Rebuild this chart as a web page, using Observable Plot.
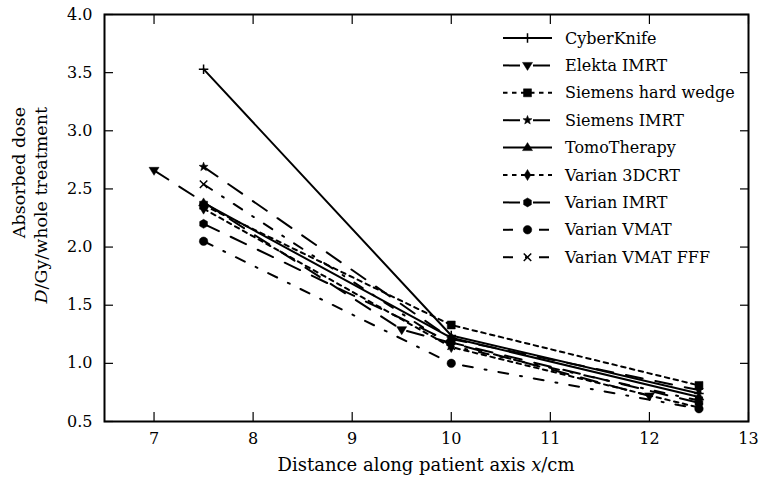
<!DOCTYPE html>
<html>
<head>
<meta charset="utf-8">
<script src="https://cdn.jsdelivr.net/npm/d3@7"></script>
<script src="https://cdn.jsdelivr.net/npm/@observablehq/plot@0.6"></script>
<style>
  body { margin: 0; background: #fff; }
  svg { font-family: "DejaVu Serif", "Liberation Serif", serif; }
</style>
</head>
<body>
<div id="chart"></div>
<script>
// Measurement positions along the patient axis (cm)
const positions = [7.5, 10, 12.5];
const elektaPositions = [7, 9.5, 12];

// Absorbed dose per whole treatment (Gy)
const cyberKnife       = [3.53, 1.24, 0.74];
const elektaImrt       = [2.66, 1.29, 0.72];
const siemensWedge     = [2.36, 1.33, 0.81];
const siemensImrt      = [2.69, 1.21, 0.77];
const tomoTherapy      = [2.38, 1.22, 0.71];
const varian3dcrt      = [2.33, 1.14, 0.62];
const varianImrt       = [2.20, 1.18, 0.66];
const varianVmat       = [2.05, 1.00, 0.61];
const varianVmatFff    = [2.54, 1.15, 0.68];

const seriesNames = ["CyberKnife", "Elekta IMRT", "Siemens hard wedge", "Siemens IMRT",
  "TomoTherapy", "Varian 3DCRT", "Varian IMRT", "Varian VMAT", "Varian VMAT FFF"];

const xTicks = [7, 8, 9, 10, 11, 12, 13];
const yTicks = [0.5, 1.0, 1.5, 2.0, 2.5, 3.0, 3.5, 4.0];

const FONT = "DejaVu Serif, serif";

// Marker shapes (d3 symbol-type objects: size is the area)
const rOf = s => Math.sqrt(s / Math.PI);
const sym = {
  plus: {draw(c, s) { const r = rOf(s) * 0.95; c.moveTo(-r, 0); c.lineTo(r, 0); c.moveTo(0, -r); c.lineTo(0, r); }},
  times: {draw(c, s) { const r = rOf(s) * 0.75; c.moveTo(-r, -r); c.lineTo(r, r); c.moveTo(-r, r); c.lineTo(r, -r); }},
  triDown: {draw(c, s) { const r = rOf(s) * 1.0; c.moveTo(-r, -r * 0.6); c.lineTo(r, -r * 0.6); c.lineTo(0, r); c.closePath(); }},
  triUp: {draw(c, s) { const r = rOf(s) * 1.0; c.moveTo(-r, r * 0.6); c.lineTo(r, r * 0.6); c.lineTo(0, -r); c.closePath(); }},
  square: {draw(c, s) { const r = rOf(s) * 0.8; c.rect(-r, -r, 2 * r, 2 * r); }},
  star: {draw(c, s) { const R = rOf(s) * 0.95, q = R * 0.42;
    for (let i = 0; i < 10; i++) { const a = -Math.PI / 2 + i * Math.PI / 5, rr = i % 2 ? q : R;
      i ? c.lineTo(rr * Math.cos(a), rr * Math.sin(a)) : c.moveTo(rr * Math.cos(a), rr * Math.sin(a)); }
    c.closePath(); }},
  thinDiamond: {draw(c, s) { const r = rOf(s) * 1.1; c.moveTo(0, -r); c.lineTo(r * 0.6, 0); c.lineTo(0, r); c.lineTo(-r * 0.6, 0); c.closePath(); }},
  hexagon: {draw(c, s) { const r = rOf(s) * 0.9;
    for (let i = 0; i < 6; i++) { const a = -Math.PI / 2 + i * Math.PI / 3;
      i ? c.lineTo(r * Math.cos(a), r * Math.sin(a)) : c.moveTo(r * Math.cos(a), r * Math.sin(a)); }
    c.closePath(); }},
  circle: {draw(c, s) { const r = rOf(s) * 0.85; c.moveTo(r, 0); c.arc(0, 0, r, 0, 2 * Math.PI); }}
};

const LONG = "17,13", DOT = "4.5,4.5", DASHDOT = "10,12,2,12";
const styles = [
  {x: positions,       y: cyberKnife,    dash: null,    symbol: sym.plus,        filled: false},
  {x: elektaPositions, y: elektaImrt,    dash: LONG,    symbol: sym.triDown,     filled: true},
  {x: positions,       y: siemensWedge,  dash: DOT,     symbol: sym.square,      filled: true},
  {x: positions,       y: siemensImrt,   dash: LONG,    symbol: sym.star,        filled: true},
  {x: positions,       y: tomoTherapy,   dash: null,    symbol: sym.triUp,       filled: true},
  {x: positions,       y: varian3dcrt,   dash: DOT,     symbol: sym.thinDiamond, filled: true},
  {x: positions,       y: varianImrt,    dash: LONG,    symbol: sym.hexagon,     filled: true},
  {x: positions,       y: varianVmat,    dash: DASHDOT, symbol: sym.circle,      filled: true},
  {x: positions,       y: varianVmatFff, dash: DASHDOT, symbol: sym.times,       filled: false}
];

const rows = styles.map((s, i) => s.x.map((x, j) => ({name: seriesNames[i], x, y: s.y[j]})));

const marks = [];
styles.forEach((s, i) => {
  marks.push(Plot.line(rows[i], {x: "x", y: "y", stroke: "black", strokeWidth: 2,
    strokeDasharray: s.dash || undefined}));
  marks.push(Plot.dot(rows[i], {x: "x", y: "y", r: 5, symbol: () => s.symbol,
    fill: s.filled ? "black" : "none", stroke: "black", strokeWidth: s.filled ? 0.5 : 1.5}));
});

const chart = Plot.plot({
  width: 760,
  height: 480,
  marginLeft: 104,
  marginRight: 12,
  marginTop: 14,
  marginBottom: 59,
  style: {fontSize: "16px", fontFamily: FONT, color: "black", background: "white"},
  x: {domain: [6.5, 13]},
  y: {domain: [0.5, 4.0]},
  symbol: {type: "identity"},
  marks: [
    ...marks,
    Plot.axisX({anchor: "bottom", ticks: xTicks, tickSize: -9, tickPadding: 20, label: null, tickFormat: d => d, strokeWidth: 1.2}),
    Plot.axisX({anchor: "top", ticks: xTicks, tickSize: -9, label: null, tickFormat: () => "", strokeWidth: 1.2}),
    Plot.axisY({anchor: "left", ticks: yTicks, tickSize: -9, tickPadding: 21, label: null, tickFormat: d3.format(".1f"), strokeWidth: 1.2}),
    Plot.axisY({anchor: "right", ticks: yTicks, tickSize: -9, label: null, tickFormat: () => "", strokeWidth: 1.2}),
    Plot.frame({stroke: "black", strokeWidth: 2})
  ]
});

document.getElementById("chart").appendChild(chart);

// Axis titles and legend
const svg = d3.select(chart);
const plotLeft = 104, plotRight = 748;

const xt = svg.append("text")
  .attr("x", (plotLeft + plotRight) / 2).attr("y", 471)
  .attr("text-anchor", "middle").attr("font-size", 18).attr("fill", "black");
xt.append("tspan").text("Distance along patient axis ");
xt.append("tspan").attr("font-style", "italic").text("x");
xt.append("tspan").text("/cm");

// two-line vertical title, both lines ending at the same height
const yt = svg.append("g").attr("transform", "translate(0,107) rotate(-90)");
yt.append("text").attr("x", 0).attr("y", 25).attr("text-anchor", "end")
  .attr("font-size", 17.5).attr("fill", "black").text("Absorbed dose");
const yt2 = yt.append("text").attr("x", 0).attr("y", 47).attr("text-anchor", "end")
  .attr("font-size", 17.5).attr("fill", "black");
yt2.append("tspan").attr("font-style", "italic").text("D");
yt2.append("tspan").text("/Gy/whole treatment");

const legend = svg.append("g").attr("transform", "translate(503,38)");
seriesNames.forEach((name, i) => {
  const s = styles[i];
  const g = legend.append("g").attr("transform", `translate(0,${i * 27.4})`);
  g.append("line").attr("x1", 0).attr("x2", 49).attr("y1", 0).attr("y2", 0)
    .attr("stroke", "black").attr("stroke-width", 2)
    .attr("stroke-dasharray", s.dash || null);
  g.append("path").attr("d", d3.symbol(s.symbol, 5 * 5 * Math.PI)())
    .attr("transform", "translate(24.5,0)")
    .attr("fill", s.filled ? "black" : "none").attr("stroke", "black")
    .attr("stroke-width", s.filled ? 0.5 : 1.5);
  g.append("text").attr("x", 62).attr("y", 0).attr("dy", "0.35em")
    .attr("text-anchor", "start")
    .attr("font-size", 16).attr("fill", "black").text(name);
});
</script>
</body>
</html>
